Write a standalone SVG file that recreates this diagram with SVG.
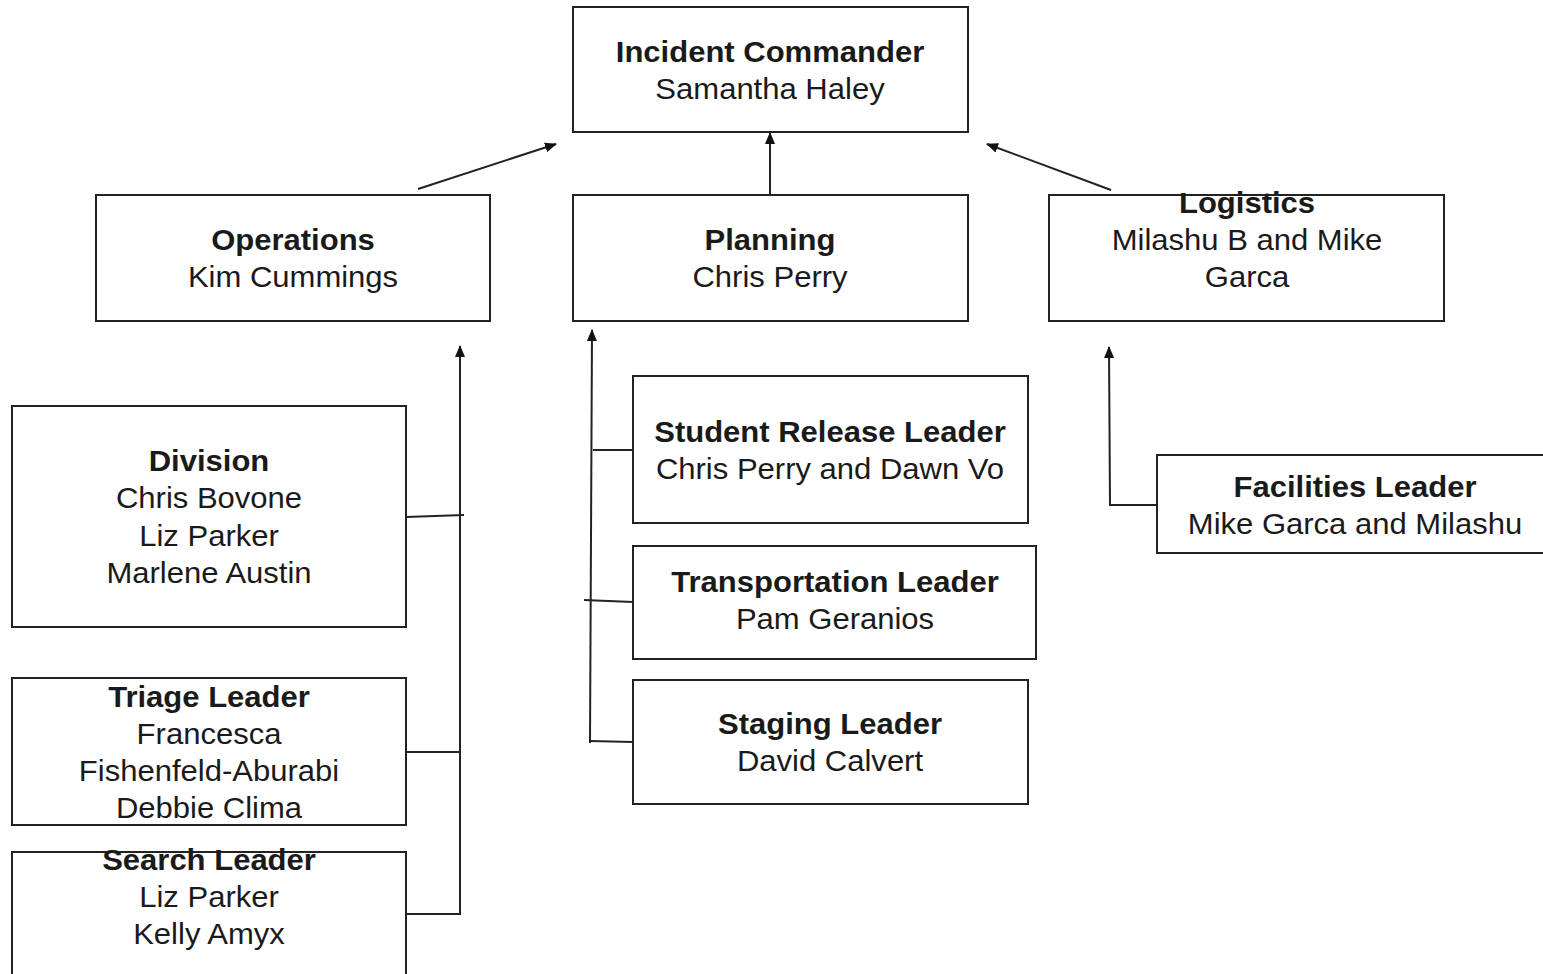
<svg xmlns="http://www.w3.org/2000/svg" width="1543" height="974" viewBox="0 0 1543 974">
<style>
.box{fill:#fff;stroke:#222;stroke-width:2}
.t{font-family:"Liberation Sans",Arial,sans-serif;font-size:29px;fill:#1a1a1a;text-anchor:middle}
.b{font-weight:bold}
.c{fill:none;stroke:#222;stroke-width:2}
</style>
<defs>
<marker id="ah" markerUnits="userSpaceOnUse" markerWidth="12" markerHeight="10" refX="11" refY="5" orient="auto">
<path d="M0,0 L12,5 L0,10 z" fill="#111"/>
</marker>
</defs>
<rect width="1543" height="974" fill="#fff"/>
<g id="connectors">
<line class="c" x1="418" y1="189" x2="556" y2="144" marker-end="url(#ah)"/>
<line class="c" x1="770" y1="195" x2="770" y2="133" marker-end="url(#ah)"/>
<line class="c" x1="1111" y1="190" x2="987" y2="144" marker-end="url(#ah)"/>
<line class="c" x1="460" y1="915" x2="460" y2="346" marker-end="url(#ah)"/>
<line class="c" x1="406" y1="517" x2="464" y2="515"/>
<line class="c" x1="406" y1="752" x2="460" y2="752"/>
<line class="c" x1="406" y1="914" x2="460" y2="914"/>
<line class="c" x1="590" y1="743" x2="592" y2="330" marker-end="url(#ah)"/>
<line class="c" x1="593" y1="450" x2="633" y2="450"/>
<line class="c" x1="584" y1="600" x2="633" y2="602"/>
<line class="c" x1="590" y1="741" x2="633" y2="742"/>
<polyline class="c" points="1157,505 1110,505 1109,347" marker-end="url(#ah)"/>
</g>
<g id="incident-commander">
<rect class="box" x="573" y="7" width="395" height="125"/>
<text class="t b" transform="translate(770,62) scale(1.07,1)">Incident Commander</text>
<text class="t" transform="translate(770,99) scale(1.07,1)">Samantha Haley</text>
</g>
<g id="operations">
<rect class="box" x="96" y="195" width="394" height="126"/>
<text class="t b" transform="translate(293,250) scale(1.07,1)">Operations</text>
<text class="t" transform="translate(293,287) scale(1.07,1)">Kim Cummings</text>
</g>
<g id="planning">
<rect class="box" x="573" y="195" width="395" height="126"/>
<text class="t b" transform="translate(770,250) scale(1.07,1)">Planning</text>
<text class="t" transform="translate(770,287) scale(1.07,1)">Chris Perry</text>
</g>
<g id="logistics">
<rect class="box" x="1049" y="195" width="395" height="126"/>
<text class="t b" transform="translate(1247,213) scale(1.07,1)">Logistics</text>
<text class="t" transform="translate(1247,250) scale(1.07,1)">Milashu B and Mike</text>
<text class="t" transform="translate(1247,287) scale(1.07,1)">Garca</text>
</g>
<g id="division">
<rect class="box" x="12" y="406" width="394" height="221"/>
<text class="t b" transform="translate(209,471) scale(1.07,1)">Division</text>
<text class="t" transform="translate(209,508) scale(1.07,1)">Chris Bovone</text>
<text class="t" transform="translate(209,546) scale(1.07,1)">Liz Parker</text>
<text class="t" transform="translate(209,583) scale(1.07,1)">Marlene Austin</text>
</g>
<g id="triage-leader">
<rect class="box" x="12" y="678" width="394" height="147"/>
<text class="t b" transform="translate(209,707) scale(1.07,1)">Triage Leader</text>
<text class="t" transform="translate(209,744) scale(1.07,1)">Francesca</text>
<text class="t" transform="translate(209,781) scale(1.07,1)">Fishenfeld-Aburabi</text>
<text class="t" transform="translate(209,818) scale(1.07,1)">Debbie Clima</text>
</g>
<g id="search-leader">
<rect class="box" x="12" y="852" width="394" height="140"/>
<text class="t b" transform="translate(209,870) scale(1.07,1)">Search Leader</text>
<text class="t" transform="translate(209,907) scale(1.07,1)">Liz Parker</text>
<text class="t" transform="translate(209,944) scale(1.07,1)">Kelly Amyx</text>
</g>
<g id="student-release-leader">
<rect class="box" x="633" y="376" width="395" height="147"/>
<text class="t b" transform="translate(830,442) scale(1.07,1)">Student Release Leader</text>
<text class="t" transform="translate(830,479) scale(1.07,1)">Chris Perry and Dawn Vo</text>
</g>
<g id="transportation-leader">
<rect class="box" x="633" y="546" width="403" height="113"/>
<text class="t b" transform="translate(835,592) scale(1.07,1)">Transportation Leader</text>
<text class="t" transform="translate(835,629) scale(1.07,1)">Pam Geranios</text>
</g>
<g id="staging-leader">
<rect class="box" x="633" y="680" width="395" height="124"/>
<text class="t b" transform="translate(830,734) scale(1.07,1)">Staging Leader</text>
<text class="t" transform="translate(830,771) scale(1.07,1)">David Calvert</text>
</g>
<g id="facilities-leader">
<rect class="box" x="1157" y="455" width="400" height="98"/>
<text class="t b" transform="translate(1355,497) scale(1.07,1)">Facilities Leader</text>
<text class="t" transform="translate(1355,534) scale(1.07,1)">Mike Garca and Milashu</text>
</g>
</svg>
